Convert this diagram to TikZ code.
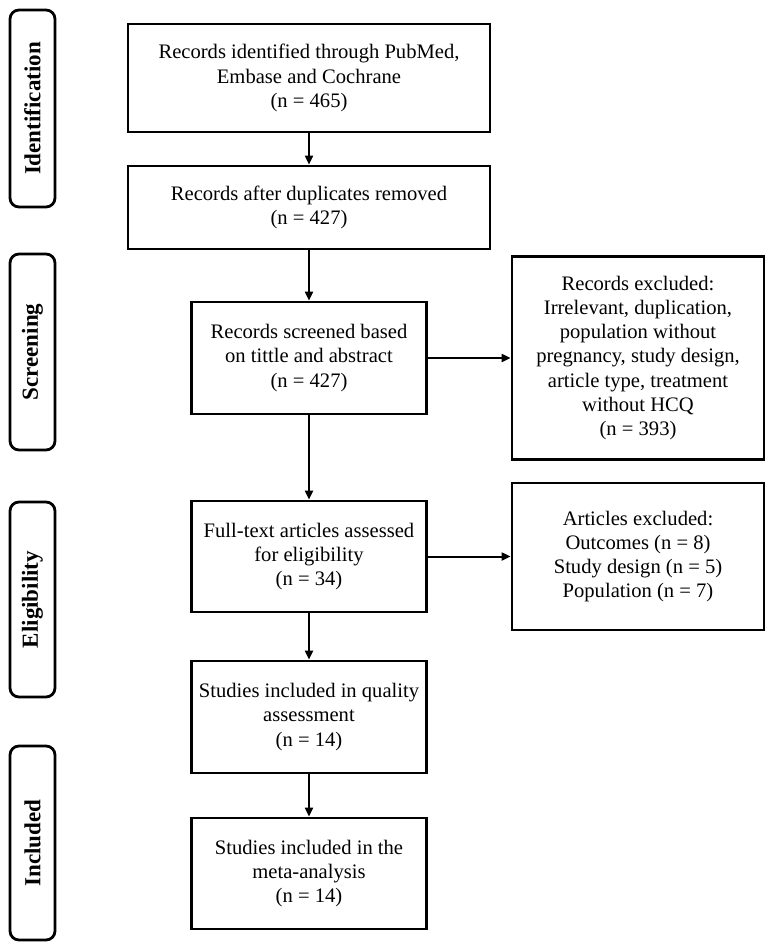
\documentclass[tikz,border=0pt]{standalone}
\usepackage{fontspec}
\setmainfont{Liberation Serif}
\usetikzlibrary{arrows.meta, positioning}

\begin{document}
\begin{tikzpicture}[x=1pt, y=1pt,
    box/.style={draw, line width=2.8pt, align=center, inner sep=2pt, font=\fontsize{20.6}{24.2}\selectfont},
    phase/.style={draw, line width=2.8pt, rounded corners=9pt, minimum height=45pt, inner sep=0pt, rotate=90, font=\bfseries\fontsize{23}{27}\selectfont},
    flow/.style={line width=2pt, -{Triangle[length=9pt, width=8pt]}}
]
    \useasboundingbox (0,0) rectangle (770,-946);

    % phase labels
    \node[phase, minimum width=197pt] (pident) at (32.5,-108.5) {Identification};
    \node[phase, minimum width=196pt] (pscreen) at (32.5,-352) {Screening};
    \node[phase, minimum width=195pt] (pelig) at (32.5,-599.5) {Eligibility};
    \node[phase, minimum width=194pt] (pincl) at (32.5,-843) {Included};

    % main column
    \node[box, minimum width=362pt, minimum height=108pt] (ident) at (309,-78) {Records identified through PubMed,\\ Embase and Cochrane\\ (n = 465)};
    \node[box, minimum width=362pt, minimum height=83pt] (dedup) at (309,-207.5) {Records after duplicates removed\\ (n = 427)};
    \node[box, minimum width=235pt, minimum height=112pt] (screen) at (309,-358) {Records screened based\\ on tittle and abstract\\ (n = 427)};
    \node[box, minimum width=235pt, minimum height=111pt] (full) at (309,-556.5) {Full-text articles assessed\\ for eligibility\\ (n = 34)};
    \node[box, minimum width=235pt, minimum height=112pt] (quality) at (309,-717) {Studies included in quality\\ assessment\\ (n = 14)};
    \node[box, minimum width=235pt, minimum height=111pt] (meta) at (309,-873.5) {Studies included in the\\ meta-analysis\\ (n = 14)};

    % exclusions
    \node[box, minimum width=252pt, minimum height=203pt] (excl1) at (638,-358) {Records excluded:\\ Irrelevant, duplication,\\ population without\\ pregnancy, study design,\\ article type, treatment\\ without HCQ\\ (n = 393)};
    \node[box, minimum width=252pt, minimum height=147pt] (excl2) at (638,-556.5) {Articles excluded:\\ Outcomes (n = 8)\\ Study design (n = 5)\\ Population (n = 7)};

    \draw[flow] (ident) -- (dedup);
    \draw[flow] (dedup) -- (screen);
    \draw[flow] (screen) -- (full);
    \draw[flow] (full) -- (quality);
    \draw[flow] (quality) -- (meta);
    \draw[flow] (screen) -- (excl1);
    \draw[flow] (full) -- (excl2);
\end{tikzpicture}
\end{document}
